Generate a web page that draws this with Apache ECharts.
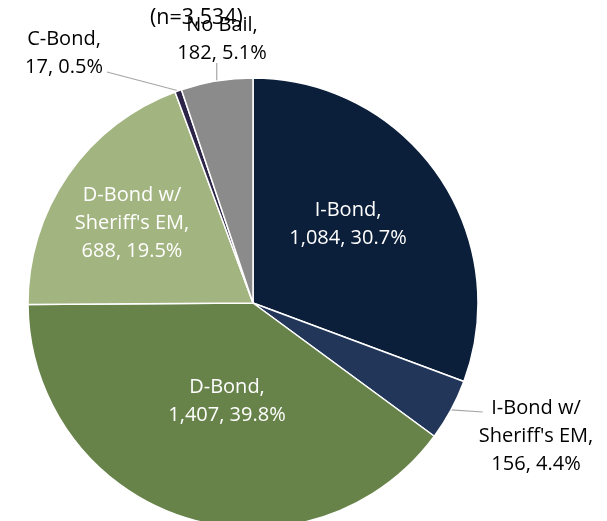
<!DOCTYPE html>
<html>
<head>
<meta charset="utf-8">
<script src="https://cdn.jsdelivr.net/npm/echarts@6/dist/echarts.min.js"></script>
<style>
html,body{margin:0;padding:0;background:#fff;}
#chart{width:607px;height:521px;}
</style>
</head>
<body>
<div id="chart"></div>
<script>
var categories = ['I-Bond', "I-Bond w/ Sheriff's EM", 'D-Bond', "D-Bond w/ Sheriff's EM", 'C-Bond', 'No Bail'];
var labelNames = ['I-Bond,', "I-Bond w/\nSheriff's EM,", 'D-Bond,', "D-Bond w/\nSheriff's EM,", 'C-Bond,', 'No Bail,'];
var values = [1084, 156, 1407, 688, 17, 182];
var total = 3534;
var titleText = '(n=3,534)';

var colors = ['#0c1f3a', '#22365a', '#68834a', '#a2b47f', '#2c2547', '#8b8b8b'];
var labelInside = [true, false, true, true, false, false];
var labelPos = [[348, 224], [536, 436], [227, 401], [132, 223], [64, 53], [222, 39]];

function fmtNum(v) { return v.toLocaleString('en-US'); }

var data = categories.map(function (c, i) {
  return {
    name: c,
    value: values[i],
    itemStyle: { color: colors[i] },
    label: {
      position: labelInside[i] ? 'inside' : 'outside',
      color: labelInside[i] ? '#ffffff' : '#000000'
    },
    labelLine: { show: !labelInside[i] }
  };
});

var chart = echarts.init(document.getElementById('chart'));
chart.setOption({
  backgroundColor: '#ffffff',
  animation: false,
  title: {
    text: titleText,
    left: 145,
    top: 2,
    textStyle: { fontFamily: 'Open Sans', fontSize: 21.5, fontWeight: 'normal', color: '#000' }
  },
  series: [{
    type: 'pie',
    center: [253, 303],
    radius: 225,
    startAngle: 90,
    clockwise: true,
    avoidLabelOverlap: false,
    itemStyle: { borderColor: '#ffffff', borderWidth: 1.5 },
    label: {
      fontFamily: 'Open Sans',
      fontSize: 20,
      lineHeight: 28,
      align: 'center',
      formatter: function (p) {
        var pct = (p.value / total * 100).toFixed(1);
        return labelNames[p.dataIndex] + '\n' + fmtNum(p.value) + ', ' + pct + '%';
      }
    },
    labelLine: {
      lineStyle: { color: '#a6a6a6', width: 1.2 },
      length: 10,
      length2: 10
    },
    labelLayout: function (p) {
      var i = p.dataIndex;
      var pos = labelPos[i];
      var w = p.labelRect.width, h = p.labelRect.height;
      var res = { x: pos[0], y: pos[1], align: 'center', verticalAlign: 'middle' };
      if (!labelInside[i] && p.labelLinePoints) {
        var s = p.labelLinePoints[0];
        var end;
        if (i === 5) {
          end = [s[0], pos[1] + h / 2 - 4];
        } else if (i === 4) {
          end = [pos[0] + w / 2 + 4, pos[1] + 19];
        } else {
          end = [pos[0] - w / 2 + 4, pos[1] - 24];
        }
        res.labelLinePoints = [s, end, end];
      }
      return res;
    },
    data: data
  }]
});
</script>
</body>
</html>
